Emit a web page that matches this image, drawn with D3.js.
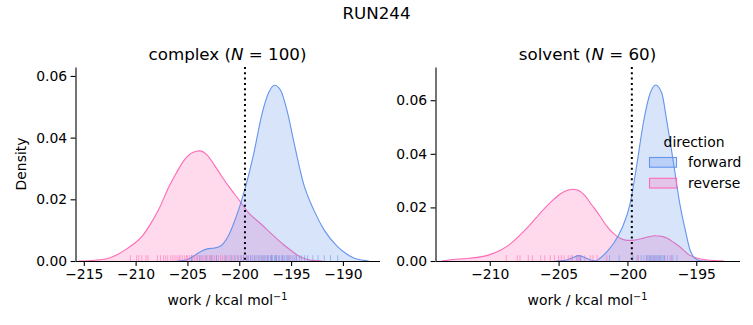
<!DOCTYPE html>
<html><head><meta charset="utf-8">
<script src="https://cdn.jsdelivr.net/npm/d3@7"></script>
<style>
body{margin:0;background:#fff}
svg{display:block}
text{font-family:"DejaVu Sans",sans-serif;fill:#000}
</style>
</head><body><svg id="c" width="753" height="325"></svg>
<script>
// ---------------- data ----------------
const suptitle = "RUN244";
const directions = ["forward", "reverse"];
const xTicksComplex = [-215, -210, -205, -200, -195, -190];
const xTicksSolvent = [-210, -205, -200, -195];
const yTicks = [0, 0.02, 0.04, 0.06];

// KDE curves: [work, density]
const complexForward = [[-206.0,0],[-205.3,0.0002],[-204.8,0.0008],[-204.3,0.0018],[-203.7,0.0031],[-203.0,0.0040],[-202.4,0.0042],[-201.9,0.0047],[-201.5,0.0058],[-201.0,0.0085],[-200.5,0.0125],[-200.0,0.0172],[-199.4,0.0240],[-198.6,0.0349],[-197.8,0.0478],[-197.1,0.0550],[-196.6,0.0570],[-196.0,0.0553],[-195.4,0.0489],[-194.7,0.0381],[-193.8,0.0251],[-192.8,0.0165],[-191.8,0.0100],[-190.5,0.0046],[-189.6,0.0022],[-188.9,0.0009],[-188.0,0.0002],[-187.5,0]];
const complexReverse = [[-215.5,0],[-214.5,0.0001],[-213.5,0.0004],[-212.6,0.0009],[-211.8,0.0020],[-211.0,0.0036],[-210.2,0.0055],[-209.4,0.0079],[-208.6,0.0118],[-207.8,0.0165],[-206.8,0.0240],[-206.1,0.0284],[-205.2,0.0332],[-204.5,0.0352],[-203.8,0.0357],[-203.1,0.0343],[-202.4,0.0311],[-201.7,0.0275],[-200.8,0.0232],[-200.0,0.0197],[-199.2,0.0160],[-197.9,0.0120],[-196.7,0.0082],[-195.8,0.0055],[-195.0,0.0034],[-194.3,0.0017],[-193.7,0.0008],[-193.0,0.0002],[-192.0,0]];
const solventForward = [[-205.2,0],[-204.5,0.0003],[-204.0,0.0012],[-203.55,0.0020],[-203.1,0.0013],[-202.6,0.0003],[-202.3,0.0001],[-202.0,0.0010],[-201.4,0.0040],[-201.0,0.0066],[-200.4,0.0122],[-199.8,0.0215],[-199.3,0.0365],[-198.85,0.0514],[-198.35,0.0626],[-197.95,0.0657],[-197.5,0.0626],[-197.15,0.0526],[-196.65,0.0365],[-196.2,0.0215],[-195.8,0.0116],[-195.45,0.0041],[-195.1,0.0010],[-194.7,0.0001],[-194.2,0]];
const solventReverse = [[-213.5,0],[-213.0,0.0004],[-211.5,0.0010],[-210.1,0.0022],[-209.3,0.0038],[-208.6,0.0060],[-207.9,0.0092],[-207.2,0.0128],[-206.6,0.0163],[-206.0,0.0197],[-205.4,0.0228],[-204.8,0.0253],[-204.3,0.0265],[-203.9,0.0268],[-203.5,0.0262],[-203.1,0.0245],[-202.6,0.0210],[-202.0,0.0168],[-201.5,0.0130],[-201.0,0.0102],[-200.5,0.0084],[-200.0,0.0077],[-199.5,0.0078],[-199.0,0.0083],[-198.5,0.0090],[-198.0,0.0094],[-197.5,0.0092],[-197.1,0.0085],[-196.6,0.0068],[-196.2,0.0053],[-195.5,0.0022],[-194.9,0.0010],[-194.2,0.0004],[-193.0,0]];

// rug samples
const complexForwardRug = [-204.6,-203.8,-203.2,-202.7,-202.2,-201.3,-200.8,-200.4,-200.1,-199.8,-199.6,-199.3,-199.1,-198.9,-198.7,-198.5,-198.3,-198.1,-197.9,-197.8,-197.6,-197.5,-197.3,-197.2,-197.0,-196.9,-196.8,-196.6,-196.5,-196.4,-196.2,-196.1,-195.9,-195.8,-195.6,-195.4,-195.3,-195.1,-194.9,-194.7,-194.5,-194.2,-194.0,-193.7,-193.4,-192.9,-192.4,-191.8,-191.2,-190.5];
const complexReverseRug = [-210.5,-209.9,-209.7,-209.4,-209.0,-208.8,-207.9,-207.6,-207.3,-207.1,-206.9,-206.6,-206.4,-206.2,-206.0,-205.8,-205.7,-205.5,-205.3,-205.1,-205.0,-204.8,-204.6,-204.5,-204.3,-204.1,-204.0,-203.8,-203.6,-203.5,-203.3,-203.1,-202.9,-202.8,-202.6,-202.4,-202.2,-202.0,-201.8,-201.6,-201.4,-201.2,-201.0,-200.7,-200.5,-200.2,-199.9,-199.6,-199.2,-198.9,-198.5,-198.1,-197.7,-197.3,-196.9,-196.4,-195.8,-195.2,-194.5];
const solventForwardRug = [-203.6,-203.4,-201.3,-200.6,-199.6,-199.3,-199.0,-198.8,-198.6,-198.5,-198.4,-198.3,-198.2,-198.1,-198.0,-197.9,-197.8,-197.7,-197.6,-197.5,-197.4,-197.3,-197.1,-196.9,-196.7,-196.4];
const solventReverseRug = [-208.8,-208.0,-207.8,-207.2,-206.9,-206.3,-206.0,-205.6,-205.3,-205.0,-204.8,-204.6,-204.3,-204.1,-204.0,-203.7,-203.5,-203.4,-203.1,-202.7,-202.5,-202.2,-201.5,-199.2,-198.6,-198.3,-198.0,-197.7,-197.3,-196.8];

const complexMark = -199.45;
const solventMark = -199.68;

// ---------------- layout ----------------
const colors = {forward: "#6495ED", reverse: "#FF69B4"};
const svg = d3.select("#c");
const axTop = 67, axBottom = 261;

const panels = [
  {name: "complex", n: "100", fwd: complexForward, rev: complexReverse, fwdRug: complexForwardRug, revRug: complexReverseRug,
   mark: complexMark, xticks: xTicksComplex, xdom: [-215.8, -186.47], ymax: 0.0629, left: 75.5, right: 379.5},
  {name: "solvent", n: "60", fwd: solventForward, rev: solventReverse, fwdRug: solventForwardRug, revRug: solventReverseRug,
   mark: solventMark, xticks: xTicksSolvent, xdom: [-213.94, -191.86], ymax: 0.0724, left: 435.5, right: 739.5}
];

svg.append("text").attr("x", 376.5).attr("y", 18.5).attr("text-anchor", "middle")
  .style("font-size", "16.7px").text(suptitle);

panels.forEach((p, i) => {
  const x = d3.scaleLinear().domain(p.xdom).range([p.left, p.right]);
  const y = d3.scaleLinear().domain([0, p.ymax]).range([axBottom, axTop]);
  const g = svg.append("g");

  const area = d3.area().x(d => x(d[0])).y0(y(0)).y1(d => y(d[1])).curve(d3.curveMonotoneX);
  const line = d3.line().x(d => x(d[0])).y(d => y(d[1])).curve(d3.curveMonotoneX);

  [["reverse", p.rev], ["forward", p.fwd]].forEach(([dir, data]) => {
    g.append("path").datum(data).attr("d", area).attr("fill", colors[dir]).attr("fill-opacity", 0.25).attr("stroke", "none");
    g.append("path").datum(data).attr("d", line).attr("fill", "none").attr("stroke", colors[dir]).attr("stroke-width", 1.1);
  });

  [["reverse", p.revRug], ["forward", p.fwdRug]].forEach(([dir, vals]) => {
    g.selectAll(null).data(vals).enter().append("line")
      .attr("x1", d => x(d)).attr("x2", d => x(d))
      .attr("y1", axBottom).attr("y2", axBottom - 0.03 * (axBottom - axTop))
      .attr("stroke", colors[dir]).attr("stroke-opacity", 0.55).attr("stroke-width", 1);
  });

  g.append("line").attr("x1", x(p.mark)).attr("x2", x(p.mark)).attr("y1", axTop).attr("y2", axBottom)
    .attr("stroke", "#000").attr("stroke-width", 2).attr("stroke-dasharray", "2,3.3");

  const xa = d3.axisBottom(x).tickValues(p.xticks).tickSize(4.9).tickSizeOuter(0).tickPadding(3.5)
    .tickFormat(d3.format("d"));
  const gx = g.append("g").attr("transform", `translate(0,${axBottom})`).call(xa);
  const ya = d3.axisLeft(y).tickValues(yTicks).tickSize(4.9).tickSizeOuter(0).tickPadding(3.5)
    .tickFormat(d3.format(".2f"));
  const gy = g.append("g").attr("transform", `translate(${p.left},0)`).call(ya);
  [gx, gy].forEach(a => {
    a.selectAll("text").style("font-size", "13.9px").style("font-family", "DejaVu Sans");
    a.selectAll("path.domain").attr("stroke", "#000").attr("stroke-width", 1.1);
    a.selectAll(".tick line").attr("stroke", "#000").attr("stroke-width", 1.1);
  });

  const cx = (p.left + p.right) / 2;
  const t = g.append("text").attr("x", cx).attr("y", 59.5).attr("text-anchor", "middle").style("font-size", "16.7px");
  t.append("tspan").text(p.name + " (");
  t.append("tspan").style("font-style", "italic").text("N");
  t.append("tspan").text(" = " + p.n + ")");

  const xl = g.append("text").attr("x", cx).attr("y", 304.5).attr("text-anchor", "middle").style("font-size", "13.9px");
  xl.append("tspan").text("work / kcal mol");
  xl.append("tspan").attr("dy", -5).style("font-size", "9.7px").text("−1");

  if (i === 0) {
    svg.append("text").attr("transform", `translate(26,${(axTop + axBottom) / 2}) rotate(-90)`)
      .attr("text-anchor", "middle").style("font-size", "13.9px").text("Density");
  } else {
    const lg = g.append("g");
    lg.append("text").attr("x", 694).attr("y", 146.5).attr("text-anchor", "middle").style("font-size", "13.9px").text("direction");
    directions.forEach((dir, k) => {
      const yy = 157.5 + k * 20.8;
      lg.append("rect").attr("x", 649.5).attr("y", yy).attr("width", 27).attr("height", 9.7)
        .attr("fill", colors[dir]).attr("fill-opacity", 0.25).attr("stroke", colors[dir]).attr("stroke-width", 1.1);
      lg.append("text").attr("x", 688).attr("y", yy + 9.3).style("font-size", "13.9px").text(dir);
    });
  }
});
</script>
</body></html>
